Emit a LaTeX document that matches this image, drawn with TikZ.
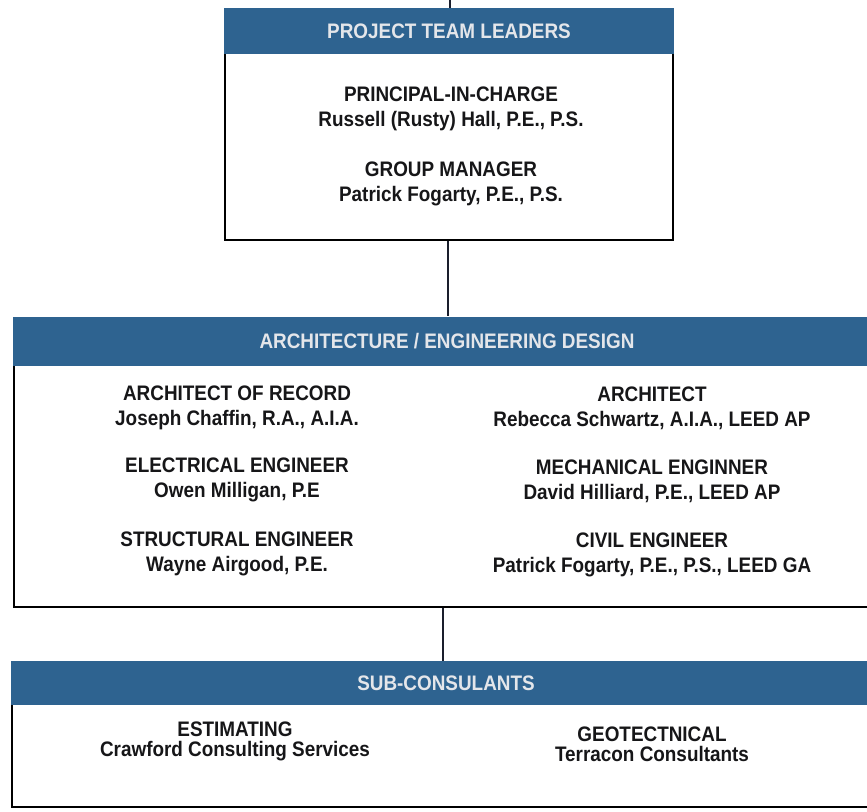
\documentclass[tikz,border=0pt]{standalone}
\usepackage{fontspec}
\setmainfont{Liberation Sans}[FakeStretch=0.9]
\definecolor{hdrblue}{HTML}{2E6390}
\definecolor{hdrtext}{HTML}{E4E6EA}
\definecolor{inktext}{HTML}{161618}
\definecolor{linkink}{HTML}{1A1E2C}
\tikzset{
  hdr/.style={fill=hdrblue, draw=none, inner sep=0pt, text=hdrtext,
    font=\bfseries\fontsize{21}{21}\selectfont},
  bodybox/.style={fill=white, draw=black, line width=2pt, inner sep=0pt},
  entry/.style={align=center, text=inktext, inner sep=0pt,
    font=\bfseries\fontsize{21}{25}\selectfont},
  entrytight/.style={align=center, text=inktext, inner sep=0pt,
    font=\bfseries\fontsize{21}{20}\selectfont},
  link/.style={draw=linkink, line width=2.6pt}
}
\begin{document}
\begin{tikzpicture}[x=1pt,y=-1pt]
\useasboundingbox (0,0) rectangle (867,811);
\clip (0,0) rectangle (867,811);
\fill[white] (0,0) rectangle (867,811);

% ---------- top box ----------
\node[bodybox, minimum width=448pt, minimum height=194pt] (topb) at (449,143) {};
\node[hdr, minimum width=450pt, minimum height=46pt] (toph) at (449,31) {PROJECT TEAM LEADERS};
\node[entry] (pic) at (451,109) {PRINCIPAL-IN-CHARGE\\Russell (Rusty) Hall, P.E., P.S.};
\node[entry] (gm) at (451,184) {GROUP MANAGER\\Patrick Fogarty, P.E., P.S.};

% ---------- middle box ----------
\node[bodybox, minimum width=866pt, minimum height=250pt] (midb) at (447,482) {};
\node[hdr, minimum width=868pt, minimum height=49pt] (midh) at (447,341) {ARCHITECTURE / ENGINEERING DESIGN};
\node[entry] (aor) at (237,408) {ARCHITECT OF RECORD\\Joseph Chaffin, R.A., A.I.A.};
\node[entry] (ee) at (237,480) {ELECTRICAL ENGINEER\\Owen Milligan, P.E};
\node[entry] (se) at (237,554) {STRUCTURAL ENGINEER\\Wayne Airgood, P.E.};
\node[entry] (arch) at (652,408) {ARCHITECT\\Rebecca Schwartz, A.I.A., LEED AP};
\node[entry] (me) at (652,481) {MECHANICAL ENGINNER\\David Hilliard, P.E., LEED AP};
\node[entry] (ce) at (652,555) {CIVIL ENGINEER\\Patrick Fogarty, P.E., P.S., LEED GA};

% ---------- bottom box ----------
\node[bodybox, minimum width=868pt, minimum height=110pt] (botb) at (446,752) {};
\node[hdr, minimum width=870pt, minimum height=44pt] (both) at (446,683) {SUB-CONSULANTS};
\node[entrytight] (est) at (235,741) {ESTIMATING\\Crawford Consulting Services};
\node[entrytight] (geo) at (652,744) {GEOTECTNICAL\\Terracon Consultants};

% ---------- connectors ----------
\coordinate (pagetop) at (450,0);
\draw[link] (pagetop) -- (pagetop |- toph.north);
\draw[link] (topb.south -| 448,0) -- (448,0 |- midh.north);
\draw[link] (443,0 |- midb.south) -- (443,0 |- both.north);
\end{tikzpicture}
\end{document}
